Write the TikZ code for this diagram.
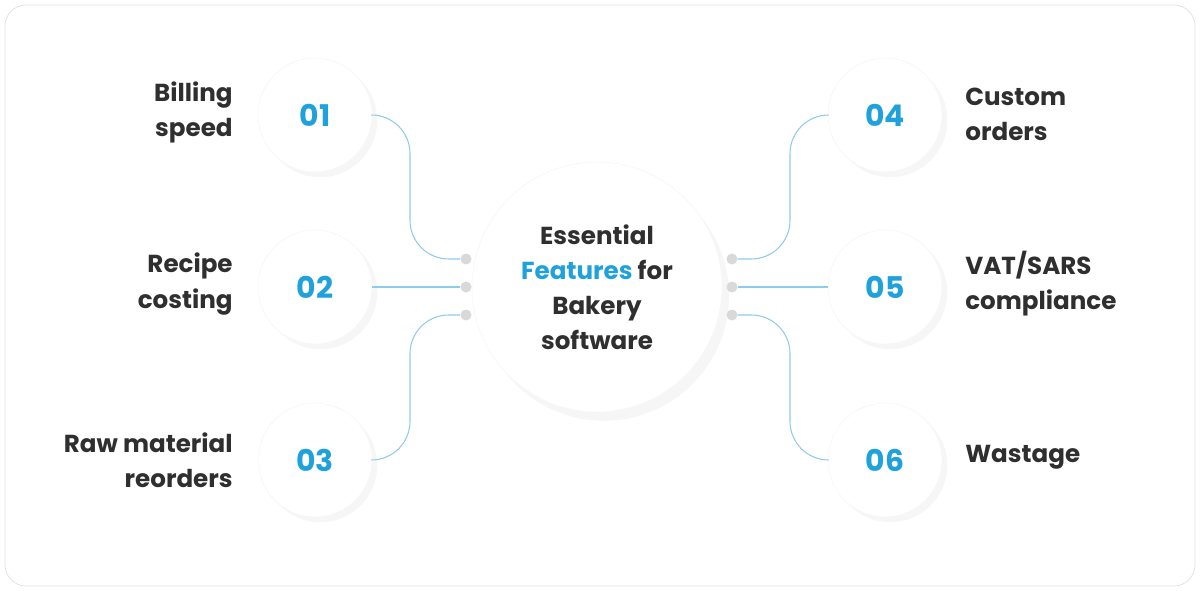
\documentclass[tikz,border=0pt]{standalone}
\usepackage{fontspec}
\setmainfont{Poppins}
\usetikzlibrary{shadows}
\definecolor{numblue}{HTML}{1FA2DC}
\definecolor{txtgray}{HTML}{2F2F2F}
\definecolor{linkblue}{HTML}{8FCBEA}
\begin{document}
\begin{tikzpicture}[x=0.02cm,y=-0.02cm]
	\tikzstyle{bubble}=[circle,fill=white,draw=gray!6,minimum size=114*0.02cm,inner sep=0pt,
		drop shadow={opacity=0.07,shadow xshift=3pt,shadow yshift=-3pt},
		font=\fontsize{17}{17}\selectfont\bfseries,text=numblue]
	\tikzstyle{dot}=[circle,fill=gray!30,minimum size=11*0.02cm,inner sep=0pt]
	\tikzstyle{label}=[font=\fontsize{14}{20}\selectfont\bfseries,text=txtgray,inner sep=0pt]
	\tikzstyle{link}=[draw=linkblue,line width=0.6pt,rounded corners=22pt]
	\useasboundingbox (0,0) rectangle (1200,591);
	\draw[gray!25,rounded corners=12pt] (5,5) rectangle (1195,586);
	\node[circle,fill=white,draw=gray!6,minimum size=250*0.02cm,inner sep=0pt,
		drop shadow={opacity=0.07,shadow xshift=4pt,shadow yshift=-5pt},
		align=center,font=\fontsize{14}{20}\selectfont\bfseries,text=txtgray] (center) at (597,287)
		{Essential\\\textcolor{numblue}{Features} for\\Bakery\\software};
	\node[bubble] (01) at (315,115) {01};
	\node[bubble] (02) at (315,287) {02};
	\node[bubble] (03) at (315,460) {03};
	\node[bubble] (04) at (885,115) {04};
	\node[bubble] (05) at (885,287) {05};
	\node[bubble] (06) at (885,460) {06};
	\node[dot] (l1) at (466,259) {};
	\node[dot] (l2) at (466,287) {};
	\node[dot] (l3) at (466,315) {};
	\node[dot] (r1) at (732,259) {};
	\node[dot] (r2) at (732,287) {};
	\node[dot] (r3) at (732,315) {};
	\node[label,anchor=east,align=right] (t1) at (233,112) {Billing\\speed};
	\node[label,anchor=east,align=right] (t2) at (233,284) {Recipe\\costing};
	\node[label,anchor=east,align=right] (t3) at (233,460) {Raw material\\reorders};
	\node[label,anchor=west,align=left] (t4) at (965,114) {Custom\\orders};
	\node[label,anchor=west,align=left] (t5) at (965,284) {VAT/SARS\\compliance};
	\node[label,anchor=west,align=left] (t6) at (965,457) {Wastage};
	\draw[link] (01.east) -- (410,115) -- (410,259) -- (l1.west);
	\draw[link] (02.east) -- (l2.west);
	\draw[link] (03.east) -- (410,460) -- (410,315) -- (l3.west);
	\draw[link] (04.west) -- (790,115) -- (790,259) -- (r1.east);
	\draw[link] (05.west) -- (r2.east);
	\draw[link] (06.west) -- (790,460) -- (790,315) -- (r3.east);
\end{tikzpicture}
\end{document}
